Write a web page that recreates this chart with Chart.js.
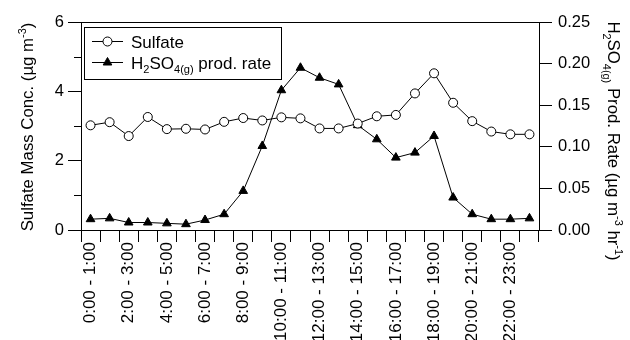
<!DOCTYPE html>
<html>
<head>
<meta charset="utf-8">
<script src="https://cdn.jsdelivr.net/npm/chart.js"></script>
<style>
  html, body { margin: 0; padding: 0; background: #fff; }
  #wrap { width: 630px; height: 340px; }
</style>
</head>
<body>
<div id="wrap"><canvas id="myChart" width="630" height="340"></canvas></div>
<script>
const hours = ['0:00 - 1:00', '1:00 - 2:00', '2:00 - 3:00', '3:00 - 4:00', '4:00 - 5:00', '5:00 - 6:00',
    '6:00 - 7:00', '7:00 - 8:00', '8:00 - 9:00', '9:00 - 10:00', '10:00 - 11:00', '11:00 - 12:00',
    '12:00 - 13:00', '13:00 - 14:00', '14:00 - 15:00', '15:00 - 16:00', '16:00 - 17:00', '17:00 - 18:00',
    '18:00 - 19:00', '19:00 - 20:00', '20:00 - 21:00', '21:00 - 22:00', '22:00 - 23:00', '23:00 - 24:00'];

// sulfate mass concentration, ug m-3 (left axis)
const sulfate = [3.02, 3.11, 2.71, 3.26, 2.91, 2.92, 2.90, 3.12, 3.23, 3.16, 3.25, 3.22,
    2.93, 2.93, 3.07, 3.28, 3.32, 3.94, 4.52, 3.67, 3.14, 2.84, 2.76, 2.76];

// H2SO4(g) production rate, ug m-3 hr-1 (right axis)
const prodRate = [0.013, 0.014, 0.009, 0.009, 0.008, 0.007, 0.012, 0.019, 0.047, 0.101, 0.168, 0.195,
    0.183, 0.175, 0.126, 0.109, 0.087, 0.093, 0.113, 0.039, 0.019, 0.013, 0.013, 0.014];

const leftTicks = [0, 6, 1];      // min, max, step
const rightTicks = [0, 0.25, 0.05];

const FONT = 'Liberation Sans, Arial, Helvetica, sans-serif';

function richWidth(ctx, segs, size) {
    let w = 0;
    segs.forEach(s => {
        ctx.font = (s[1] ? size * 0.65 : size) + 'px ' + FONT;
        w += ctx.measureText(s[0]).width;
    });
    return w;
}

// draws text with sub / superscripts, starting at x, baseline y
function drawRich(ctx, segs, size, x, y) {
    segs.forEach(s => {
        let dy = 0;
        if (s[1] === 'sub') dy = size * 0.28;
        if (s[1] === 'sup') dy = -size * 0.42;
        ctx.font = (s[1] ? size * 0.65 : size) + 'px ' + FONT;
        ctx.fillText(s[0], x, y + dy);
        x += ctx.measureText(s[0]).width;
    });
}

const leftTitle = [['Sulfate Mass Conc. (µg m'], ['-3', 'sup'], [')']];
const rightTitle = [['H'], ['2', 'sub'], ['SO'], ['4(g)', 'sub'], [' Prod. Rate (µg m'], ['-3', 'sup'], [' hr'], ['-1', 'sup'], [')']];
const legendNames = [
    [['Sulfate']],
    [['H'], ['2', 'sub'], ['SO'], ['4(g)', 'sub'], [' prod. rate']]
];

const extras = {
    id: 'extras',
    afterDraw(chart) {
        const ctx = chart.ctx;
        const area = chart.chartArea;
        const y = chart.scales.y;
        ctx.save();
        ctx.strokeStyle = '#000';
        ctx.fillStyle = '#000';
        ctx.lineWidth = 1;

        // top frame line
        ctx.beginPath();
        ctx.moveTo(area.left, Math.round(area.top) + 0.5);
        ctx.lineTo(area.right, Math.round(area.top) + 0.5);
        ctx.stroke();

        // minor ticks on left axis
        [1, 3, 5].forEach(v => {
            const py = Math.round(y.getPixelForValue(v)) + 0.5;
            ctx.beginPath();
            ctx.moveTo(y.right - 7, py);
            ctx.lineTo(y.right, py);
            ctx.stroke();
        });

        // axis titles
        ctx.textBaseline = 'alphabetic';
        ctx.textAlign = 'left';
        const ts = 16.8;
        let w = richWidth(ctx, leftTitle, ts);
        ctx.save();
        ctx.translate(27, 127);
        ctx.rotate(-Math.PI / 2);
        drawRich(ctx, leftTitle, ts, -w / 2, ts * 0.36);
        ctx.restore();

        w = richWidth(ctx, rightTitle, ts);
        ctx.save();
        ctx.translate(614, 141);
        ctx.rotate(Math.PI / 2);
        drawRich(ctx, rightTitle, ts, -w / 2, ts * 0.36);
        ctx.restore();

        // legend box
        ctx.strokeRect(84.5, 27.5, 197, 52);
        const rows = [41.5, 62.5];
        chart.data.datasets.forEach((ds, i) => {
            const ry = rows[i];
            ctx.beginPath();
            ctx.moveTo(92, ry);
            ctx.lineTo(123, ry);
            ctx.stroke();
            ctx.fillStyle = ds.pointBackgroundColor;
            Chart.helpers.drawPoint(ctx, {
                pointStyle: ds.pointStyle,
                radius: ds.pointRadius,
                rotation: 0,
                borderWidth: 1
            }, 107.5, ry);
            ctx.fillStyle = '#000';
            drawRich(ctx, legendNames[i], 17, 131, ry + 6);
        });
        ctx.restore();
    }
};

new Chart(document.getElementById('myChart'), {
    type: 'line',
    data: {
        labels: hours,
        datasets: [{
            label: 'Sulfate',
            data: sulfate,
            yAxisID: 'y',
            borderColor: '#000',
            borderWidth: 1,
            pointStyle: 'circle',
            pointRadius: 4.5,
            pointBackgroundColor: '#fff',
            pointBorderColor: '#000',
            pointBorderWidth: 1,
            tension: 0
        }, {
            label: 'H2SO4(g) prod. rate',
            data: prodRate,
            yAxisID: 'y2',
            borderColor: '#000',
            borderWidth: 1,
            pointStyle: 'triangle',
            pointRadius: 5,
            pointBackgroundColor: '#000',
            pointBorderColor: '#000',
            pointBorderWidth: 1,
            tension: 0
        }]
    },
    options: {
        responsive: false,
        animation: false,
        layout: { padding: { top: 22, left: 0, right: 0, bottom: 0 } },
        plugins: { legend: { display: false }, tooltip: { enabled: false } },
        scales: {
            x: {
                type: 'category',
                offset: true,
                grid: { offset: true, drawOnChartArea: false, tickLength: 12, color: '#000', tickColor: '#000' },
                border: { color: '#000', width: 1 },
                ticks: {
                    autoSkip: false, maxRotation: 90, minRotation: 90, padding: 0,
                    color: '#000', font: { size: 17, family: FONT },
                    callback: (v, i) => i % 2 === 0 ? hours[i] : ''
                },
                afterFit: s => { s.height = 110; }
            },
            y: {
                position: 'left',
                min: leftTicks[0], max: leftTicks[1],
                grid: {
                    drawOnChartArea: false, tickLength: 13, color: '#000',
                    tickColor: c => (c.tick && c.tick.value % 2 === 0) ? '#000' : 'rgba(0,0,0,0)'
                },
                border: { color: '#000', width: 1 },
                ticks: {
                    stepSize: leftTicks[2], padding: 4, color: '#000',
                    font: { size: 16.5, family: FONT },
                    callback: v => v % 2 === 0 ? v : ''
                },
                afterFit: s => { s.width = 81; }
            },
            y2: {
                position: 'right',
                min: rightTicks[0], max: rightTicks[1],
                grid: { drawOnChartArea: false, tickLength: 13, color: '#000', tickColor: '#000' },
                border: { color: '#000', width: 1 },
                ticks: {
                    stepSize: rightTicks[2], padding: 6, color: '#000',
                    font: { size: 16.5, family: FONT },
                    callback: v => v.toFixed(2)
                },
                afterFit: s => { s.width = 91; }
            }
        }
    },
    plugins: [extras]
});
</script>
</body>
</html>
